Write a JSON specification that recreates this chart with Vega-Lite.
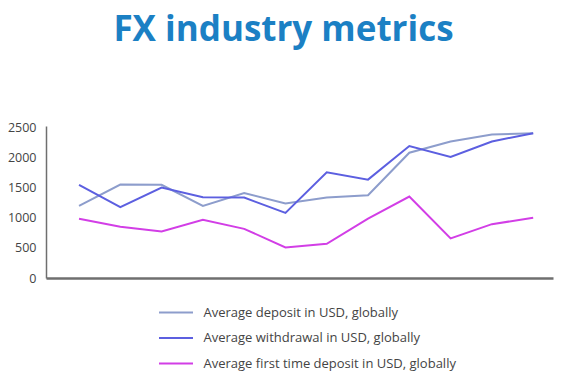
{
  "$schema": "https://vega.github.io/schema/vega-lite/v6.json",
  "autosize": "none",
  "width": 507,
  "height": 152,
  "padding": {"left": 46, "top": 126, "right": 10, "bottom": 97},
  "background": "white",
  "title": {
    "text": "FX industry metrics",
    "font": "Open Sans",
    "fontSize": 35,
    "fontWeight": "bold",
    "color": "#1b80c4",
    "anchor": "middle",
    "dx": -16,
    "offset": 73
  },
  "config": {"view": {"stroke": null}},
  "data": {
    "values": [
      {"i": 1, "series": "Average deposit in USD, globally", "v": 1195},
      {"i": 2, "series": "Average deposit in USD, globally", "v": 1550},
      {"i": 3, "series": "Average deposit in USD, globally", "v": 1545},
      {"i": 4, "series": "Average deposit in USD, globally", "v": 1195},
      {"i": 5, "series": "Average deposit in USD, globally", "v": 1410},
      {"i": 6, "series": "Average deposit in USD, globally", "v": 1234},
      {"i": 7, "series": "Average deposit in USD, globally", "v": 1333},
      {"i": 8, "series": "Average deposit in USD, globally", "v": 1372},
      {"i": 9, "series": "Average deposit in USD, globally", "v": 2077},
      {"i": 10, "series": "Average deposit in USD, globally", "v": 2264},
      {"i": 11, "series": "Average deposit in USD, globally", "v": 2380},
      {"i": 12, "series": "Average deposit in USD, globally", "v": 2400},
      {"i": 1, "series": "Average withdrawal in USD, globally", "v": 1545},
      {"i": 2, "series": "Average withdrawal in USD, globally", "v": 1174},
      {"i": 3, "series": "Average withdrawal in USD, globally", "v": 1499},
      {"i": 4, "series": "Average withdrawal in USD, globally", "v": 1339},
      {"i": 5, "series": "Average withdrawal in USD, globally", "v": 1333},
      {"i": 6, "series": "Average withdrawal in USD, globally", "v": 1080},
      {"i": 7, "series": "Average withdrawal in USD, globally", "v": 1752},
      {"i": 8, "series": "Average withdrawal in USD, globally", "v": 1631},
      {"i": 9, "series": "Average withdrawal in USD, globally", "v": 2187},
      {"i": 10, "series": "Average withdrawal in USD, globally", "v": 2006},
      {"i": 11, "series": "Average withdrawal in USD, globally", "v": 2264},
      {"i": 12, "series": "Average withdrawal in USD, globally", "v": 2400},
      {"i": 1, "series": "Average first time deposit in USD, globally", "v": 981},
      {"i": 2, "series": "Average first time deposit in USD, globally", "v": 848},
      {"i": 3, "series": "Average first time deposit in USD, globally", "v": 771},
      {"i": 4, "series": "Average first time deposit in USD, globally", "v": 964},
      {"i": 5, "series": "Average first time deposit in USD, globally", "v": 815},
      {"i": 6, "series": "Average first time deposit in USD, globally", "v": 507},
      {"i": 7, "series": "Average first time deposit in USD, globally", "v": 567},
      {"i": 8, "series": "Average first time deposit in USD, globally", "v": 986},
      {"i": 9, "series": "Average first time deposit in USD, globally", "v": 1350},
      {"i": 10, "series": "Average first time deposit in USD, globally", "v": 656},
      {"i": 11, "series": "Average first time deposit in USD, globally", "v": 893},
      {"i": 12, "series": "Average first time deposit in USD, globally", "v": 997}
    ]
  },
  "mark": {"type": "line", "strokeWidth": 2, "interpolate": "linear"},
  "encoding": {
    "x": {
      "field": "i",
      "type": "quantitative",
      "scale": {"domain": [0.2, 12.48], "nice": false, "zero": false},
      "axis": {
        "title": null,
        "labels": false,
        "ticks": false,
        "grid": false,
        "domainColor": "#6f6f6f",
        "domainWidth": 2.5
      }
    },
    "y": {
      "field": "v",
      "type": "quantitative",
      "scale": {"domain": [0, 2520], "nice": false},
      "axis": {
        "title": null,
        "values": [0, 500, 1000, 1500, 2000, 2500],
        "format": "d",
        "ticks": false,
        "grid": false,
        "domainColor": "#6f6f6f",
        "domainWidth": 1.5,
        "labelFont": "Open Sans",
        "labelFontSize": 12.5,
        "labelColor": "#444444",
        "labelPadding": 10
      }
    },
    "color": {
      "field": "series",
      "type": "nominal",
      "sort": [
        "Average deposit in USD, globally",
        "Average withdrawal in USD, globally",
        "Average first time deposit in USD, globally"
      ],
      "scale": {
        "domain": [
          "Average deposit in USD, globally",
          "Average withdrawal in USD, globally",
          "Average first time deposit in USD, globally"
        ],
        "range": ["#8d9dcc", "#5c5fe0", "#d23ee6"]
      },
      "legend": {
        "title": null,
        "orient": "none",
        "legendX": 120.5,
        "legendY": 177,
        "direction": "vertical",
        "symbolType": "M-2,0H2",
        "symbolSize": 289,
        "symbolStrokeWidth": 2,
        "labelOffset": 18,
        "rowPadding": 8.5,
        "labelFont": "Open Sans",
        "labelFontSize": 13,
        "labelColor": "#444444",
        "labelLimit": 400
      }
    }
  }
}
